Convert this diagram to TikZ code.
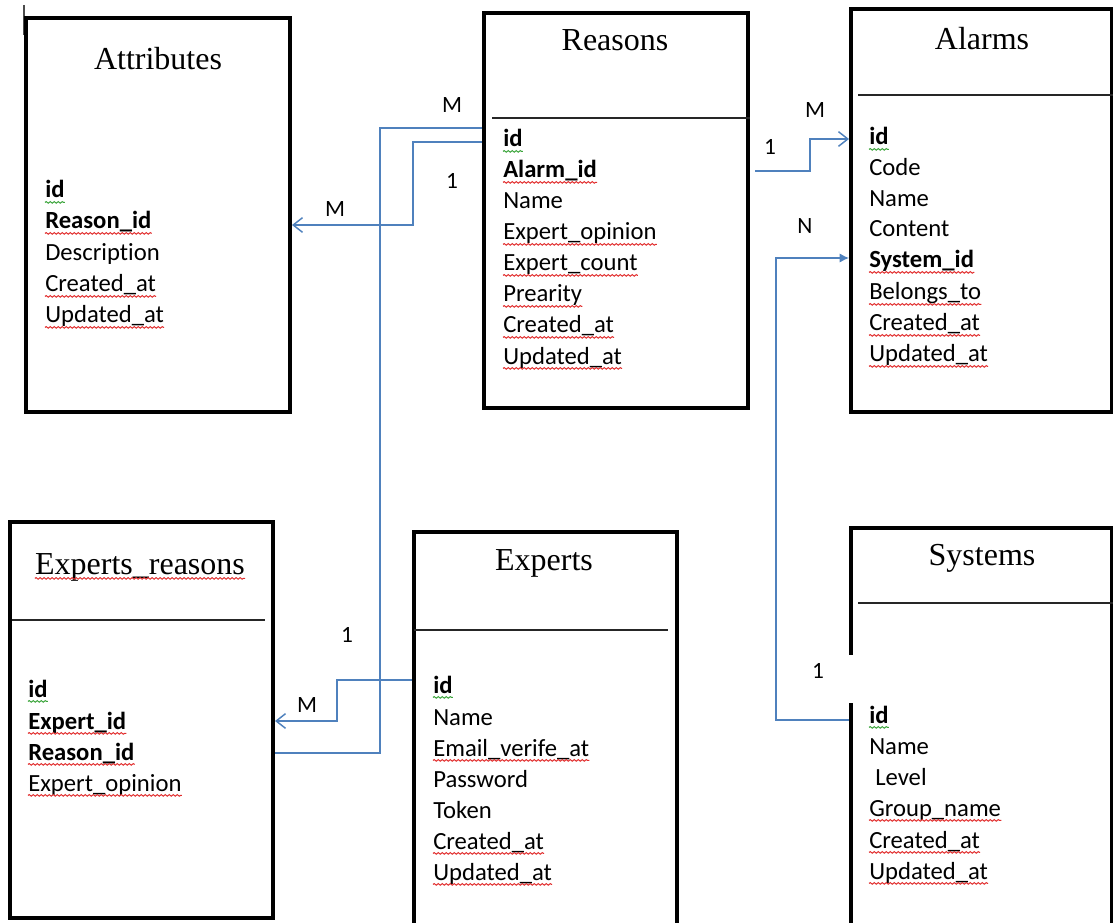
\documentclass[tikz,border=0pt]{standalone}
\usepackage{fontspec}
\setmainfont{Carlito}[Ligatures=NoCommon]
\newfontfamily\titlefont{Liberation Serif}
\usetikzlibrary{fit,arrows.meta,decorations.pathmorphing}

\definecolor{linkblue}{RGB}{79,129,189}
\definecolor{spellred}{RGB}{225,45,45}
\definecolor{spellgreen}{RGB}{60,165,60}

\tikzset{
  tbl/.style={draw, line width=3pt, inner sep=0pt, rectangle},
  sepline/.style={line width=1pt, black!85},
  title/.style={font=\titlefont\fontsize{24}{28}\selectfont, inner sep=0pt, anchor=base},
  fieldtext/.style={font=\fontsize{18.5}{22}\selectfont, inner sep=0pt, anchor=base west},
  keytext/.style={fieldtext, font=\fontsize{18.5}{22}\selectfont\bfseries},
  card/.style={font=\fontsize{17.5}{20}\selectfont, inner sep=0pt},
  link/.style={linkblue, line width=1.1pt},
  openhead/.style={-{Straight Barb[length=7pt,width=11pt]}},
  solidhead/.style={-{Latex[length=7pt,width=7pt]}},
  wavy/.style={decorate, decoration={snake, segment length=3pt, amplitude=0.6pt}, line width=0.75pt},
}

% a table row: style, name, position, text
\newcommand\erfield[4]{\node[#1] (#2) at (#3) {#4};}
% spell-check style wavy underline below a text node
\newcommand\squig[2]{\draw[wavy,#1] ([yshift=-3.3pt]#2.base west) -- ([yshift=-3.3pt]#2.base east);}

\begin{document}
\begin{tikzpicture}[x=0.75pt, y=-0.75pt]
\useasboundingbox (0,0) rectangle (1113,923);
\clip (0,0) rectangle (1113,923);

% small cursor mark
\draw[line width=1.5pt, black!70] (24,5) -- (24,35);

% ---------- tables ----------
\node[tbl, fit={(26,18) (290,412)}] (attr) {};
\node[tbl, fit={(484,13) (748,408)}] (reasons) {};
\node[tbl, fit={(851,9) (1112,412)}] (alarms) {};
\node[tbl, fit={(10,522) (273,918)}] (er) {};
\node[tbl, fit={(414,532) (677,935)}] (experts) {};
\node[tbl, fit={(851,528) (1112,935)}] (systems) {};

% gap in the Systems border behind its label
\fill[white] (845,655) rectangle (857,703);

% separators
\draw[sepline] (492,118) -- (reasons.east |- 0,118);
\draw[sepline] (858,95) -- (1113,95);
\draw[sepline] (12,620) -- (265,620);
\draw[sepline] (414,630) -- (668,630);
\draw[sepline] (858,603) -- (1113,603);

% titles
\node[title] (attr-t) at (158,70) {Attributes};
\node[title] (reasons-t) at (615,51) {Reasons};
\node[title] (alarms-t) at (982,50) {Alarms};
\node[title] (er-t) at (140,574) {Experts\_reasons};
\node[title] (experts-t) at (544,570) {Experts};
\node[title] (systems-t) at (982,565) {Systems};
\squig{spellred}{er-t}

% Attributes
\erfield{keytext}{a1}{45,198}{id}
\erfield{keytext}{a2}{45,229}{Reason\_id}
\erfield{fieldtext}{a3}{45,261}{Description}
\erfield{fieldtext}{a4}{45,292}{Created\_at}
\erfield{fieldtext}{a5}{45,323}{Updated\_at}
\squig{spellgreen}{a1}
\squig{spellred}{a2}
\squig{spellred}{a4}
\squig{spellred}{a5}

% Reasons
\erfield{keytext}{r1}{503,147}{id}
\erfield{keytext}{r2}{503,178}{Alarm\_id}
\erfield{fieldtext}{r3}{503,209}{Name}
\erfield{fieldtext}{r4}{503,240}{Expert\_opinion}
\erfield{fieldtext}{r5}{503,271}{Expert\_count}
\erfield{fieldtext}{r6}{503,302}{Prearity}
\erfield{fieldtext}{r7}{503,333}{Created\_at}
\erfield{fieldtext}{r8}{503,364}{Updated\_at}
\squig{spellgreen}{r1}
\squig{spellred}{r2}
\squig{spellred}{r4}
\squig{spellred}{r5}
\squig{spellred}{r6}
\squig{spellred}{r7}
\squig{spellred}{r8}

% Alarms
\erfield{keytext}{l1}{869,145}{id}
\erfield{fieldtext}{l2}{869,176}{Code}
\erfield{fieldtext}{l3}{869,207}{Name}
\erfield{fieldtext}{l4}{869,237}{Content}
\erfield{keytext}{l5}{869,268}{System\_id}
\erfield{fieldtext}{l6}{869,300}{Belongs\_to}
\erfield{fieldtext}{l7}{869,331}{Created\_at}
\erfield{fieldtext}{l8}{869,362}{Updated\_at}
\squig{spellgreen}{l1}
\squig{spellred}{l5}
\squig{spellred}{l6}
\squig{spellred}{l7}
\squig{spellred}{l8}

% Experts_reasons
\erfield{keytext}{e1}{28,697}{id}
\erfield{keytext}{e2}{28,729}{Expert\_id}
\erfield{keytext}{e3}{28,760}{Reason\_id}
\erfield{fieldtext}{e4}{28,791}{Expert\_opinion}
\squig{spellgreen}{e1}
\squig{spellred}{e2}
\squig{spellred}{e3}
\squig{spellred}{e4}

% Experts
\erfield{keytext}{x1}{433,693}{id}
\erfield{fieldtext}{x2}{433,725}{Name}
\erfield{fieldtext}{x3}{433,756}{Email\_verife\_at}
\erfield{fieldtext}{x4}{433,787}{Password}
\erfield{fieldtext}{x5}{433,818}{Token}
\erfield{fieldtext}{x6}{433,849}{Created\_at}
\erfield{fieldtext}{x7}{433,880}{Updated\_at}
\squig{spellgreen}{x1}
\squig{spellred}{x3}
\squig{spellred}{x6}
\squig{spellred}{x7}

% Systems
\erfield{keytext}{s1}{869,723}{id}
\erfield{fieldtext}{s2}{869,754}{Name}
\erfield{fieldtext}{s3}{875,785}{Level}
\erfield{fieldtext}{s4}{869,816}{Group\_name}
\erfield{fieldtext}{s5}{869,848}{Created\_at}
\erfield{fieldtext}{s6}{869,879}{Updated\_at}
\squig{spellgreen}{s1}
\squig{spellred}{s4}
\squig{spellred}{s5}
\squig{spellred}{s6}

% ---------- relationships ----------
\draw[link, openhead] (reasons.west |- 0,142) -- (413,142) |- (attr.east |- 0,225);
\draw[link] (reasons.west |- 0,128) -- (380,128) |- (er.east |- 0,753);
\draw[link, openhead] (experts.west |- 0,680) -- (337,680) |- (er.east |- 0,721);
\draw[link, openhead] (755,171) -- (810,171) |- (alarms.west |- 0,139);
\draw[link, solidhead] (systems.west |- 0,720) -- (776,720) |- (alarms.west |- 0,258);

% cardinalities
\node[card] (c1) at (452,105) {M};
\node[card] (c2) at (452,181) {1};
\node[card] (c3) at (335,209) {M};
\node[card] (c4) at (815,110) {M};
\node[card] (c5) at (770,147) {1};
\node[card] (c6) at (805,226) {N};
\node[card] (c7) at (818,671) {1};
\node[card] (c8) at (347,635) {1};
\node[card] (c9) at (307,705) {M};
\end{tikzpicture}
\end{document}
